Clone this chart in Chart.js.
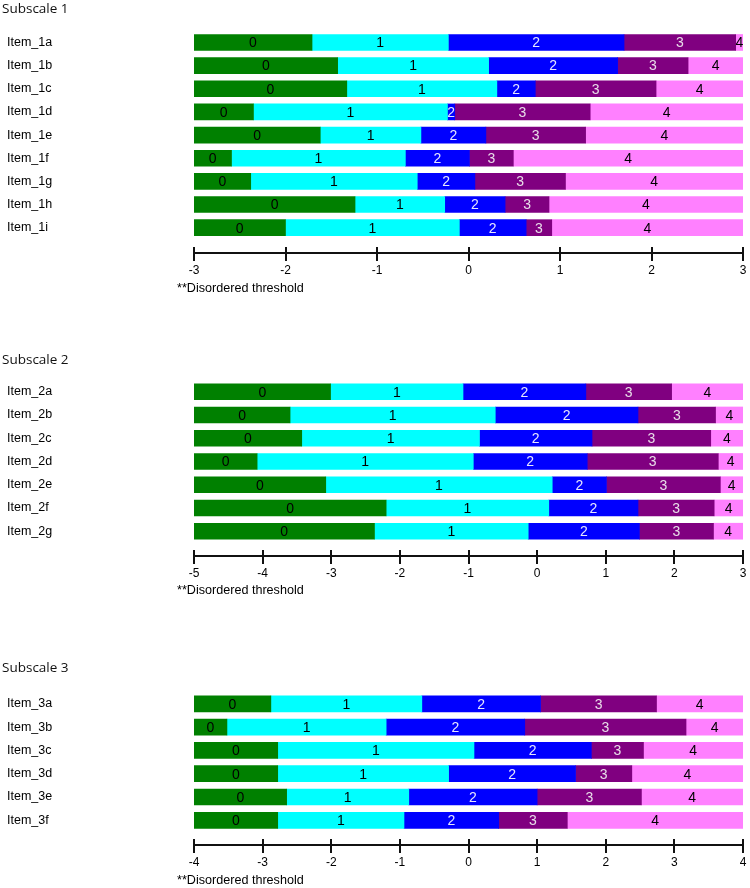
<!DOCTYPE html>
<html><head><meta charset="utf-8">
<script src="https://cdn.jsdelivr.net/npm/chart.js@4.4.1/dist/chart.umd.min.js"></script>
<style>
html,body{margin:0;padding:0;background:#fff;}
#page{position:relative;width:750px;height:888px;overflow:hidden;background:#fff;}
.panel{position:absolute;left:0;width:750px;}
.panel canvas{display:block;}
.title{position:absolute;left:2px;font:13.5px "Open Sans",sans-serif;color:#111;line-height:16px;}
.note{position:absolute;left:177px;font:12.6px "Liberation Sans",Arial,sans-serif;color:#000;line-height:14px;}
</style></head>
<body><div id="page">
<div class="panel" style="top:0px;height:300px"><canvas id="c1" width="750" height="300"></canvas></div>
<div class="panel" style="top:340px;height:270px"><canvas id="c2" width="750" height="270"></canvas></div>
<div class="panel" style="top:650px;height:238px"><canvas id="c3" width="750" height="238"></canvas></div>
<div class="title" style="top:0px">Subscale 1</div>
<div class="title" style="top:351px">Subscale 2</div>
<div class="title" style="top:659px">Subscale 3</div>
<div class="note" style="top:281px">**Disordered threshold</div>
<div class="note" style="top:583px">**Disordered threshold</div>
<div class="note" style="top:873px">**Disordered threshold</div>
</div>
<script>
// ---- Data ----
const segmentLabels = ['0', '1', '2', '3', '4'];

const sub1Items = ['Item_1a','Item_1b','Item_1c','Item_1d','Item_1e','Item_1f','Item_1g','Item_1h','Item_1i'];
const sub1Thr1 = [-1.71, -1.43, -1.33, -2.35, -1.62, -2.59, -2.38, -1.24, -2.00];
const sub1Thr2 = [-0.22, 0.22, 0.31, -0.23, -0.52, -0.69, -0.56, -0.26, -0.10];
const sub1Thr3 = [1.70, 1.63, 0.73, -0.15, 0.19, 0.01, 0.07, 0.40, 0.63];
const sub1Thr4 = [2.92, 2.40, 2.05, 1.33, 1.28, 0.49, 1.06, 0.88, 0.91];
const sub1Ticks = [-3, -2, -1, 0, 1, 2, 3];

const sub2Items = ['Item_2a','Item_2b','Item_2c','Item_2d','Item_2e','Item_2f','Item_2g'];
const sub2Thr1 = [-3.01, -3.60, -3.43, -4.08, -3.08, -2.20, -2.37];
const sub2Thr2 = [-1.08, -0.61, -0.84, -0.93, 0.22, 0.17, -0.13];
const sub2Thr3 = [0.71, 1.47, 0.80, 0.73, 1.01, 1.47, 1.49];
const sub2Thr4 = [1.96, 2.60, 2.53, 2.64, 2.67, 2.58, 2.57];
const sub2Ticks = [-5, -4, -3, -2, -1, 0, 1, 2, 3];

const sub3Items = ['Item_3a','Item_3b','Item_3c','Item_3d','Item_3e','Item_3f'];
const sub3Thr1 = [-2.88, -3.52, -2.78, -2.78, -2.65, -2.78];
const sub3Thr2 = [-0.68, -1.20, 0.08, -0.29, -0.87, -0.94];
const sub3Thr3 = [1.05, 0.82, 1.79, 1.56, 1.00, 0.44];
const sub3Thr4 = [2.74, 3.17, 2.55, 2.38, 2.52, 1.44];
const sub3Ticks = [-4, -3, -2, -1, 0, 1, 2, 3, 4];

// ---- Style ----
const segColors = ['#008000', '#00ffff', '#0000ff', '#800080', '#ff80ff'];
const segTextColors = ['#000000', '#000000', '#e6e6ff', '#e8dce8', '#000000'];
const FONT = '"Liberation Sans", Arial, sans-serif';
const SEG_FONT = '14px "Liberation Sans Narrow", "Liberation Sans", Arial, sans-serif';

const segLabelPlugin = {
  id: 'segLabels',
  afterDatasetsDraw(chart) {
    const ctx = chart.ctx;
    const n = chart.data.datasets.length;
    chart.data.datasets.forEach((ds, di) => {
      const meta = chart.getDatasetMeta(di);
      meta.data.forEach(bar => {
        const p = bar.getProps(['x', 'base', 'y', 'height'], true);
        const l = Math.min(p.x, p.base), r = Math.max(p.x, p.base);
        ctx.save();
        ctx.beginPath();
        const w = di === n - 1 ? chart.width - l : r - l;
        ctx.rect(l, p.y - p.height / 2, w, p.height);
        ctx.clip();
        ctx.fillStyle = segTextColors[di];
        ctx.font = SEG_FONT;
        ctx.textAlign = 'center';
        ctx.textBaseline = 'middle';
        ctx.fillText(segmentLabels[di], (l + r) / 2, p.y + 1);
        ctx.restore();
      });
    });
  }
};

const tickStubPlugin = {
  id: 'tickStubs',
  afterDraw(chart) {
    const sx = chart.scales.x, ctx = chart.ctx;
    const yb = chart.chartArea.bottom;
    ctx.save();
    ctx.strokeStyle = '#111';
    ctx.lineWidth = 2;
    sx.ticks.forEach(t => {
      const px = Math.round(sx.getPixelForValue(t.value));
      ctx.beginPath();
      ctx.moveTo(px, yb - 6);
      ctx.lineTo(px, yb);
      ctx.stroke();
    });
    ctx.restore();
  }
};

function makeChart(id, items, thr1, thr2, thr3, thr4, ticks, geom) {
  const xMin = ticks[0], xMax = ticks[ticks.length - 1];
  const bounds = [items.map(() => xMin), thr1, thr2, thr3, thr4, items.map(() => xMax)];
  const datasets = segmentLabels.map((lab, k) => ({
    label: lab,
    data: items.map((_, i) => ({ x: [bounds[k][i], bounds[k + 1][i]], y: i })),
    backgroundColor: segColors[k],
    borderWidth: 0,
    barThickness: 16,
    grouped: false
  }));
  return new Chart(document.getElementById(id), {
    type: 'bar',
    data: { datasets },
    plugins: [segLabelPlugin, tickStubPlugin],
    options: {
      indexAxis: 'y',
      responsive: false,
      animation: false,
      layout: { padding: { left: 7, right: 7, top: geom.top, bottom: 0 } },
      plugins: { legend: { display: false }, tooltip: { enabled: false }, title: { display: false } },
      scales: {
        x: {
          type: 'linear', min: xMin, max: xMax, bounds: 'data', offset: false,
          afterBuildTicks: s => { s.ticks = ticks.map(v => ({ value: v })); },
          grid: { drawOnChartArea: false, drawTicks: true, tickLength: 8, color: '#111', lineWidth: 2, offset: false },
          border: { display: true, color: '#111', width: 2 },
          ticks: { color: '#000', font: { family: FONT, size: 12 }, padding: 2, maxRotation: 0, autoSkip: false,
                   callback: v => String(v) },
          afterFit: s => { s.height = geom.axisH; }
        },
        y: {
          type: 'linear', reverse: true, min: -0.5, max: geom.yMax, bounds: 'data', offset: false,
          afterBuildTicks: s => { s.ticks = items.map((_, i) => ({ value: i })); },
          grid: { display: false, offset: false },
          border: { display: false },
          ticks: { crossAlign: 'far', padding: 0, color: '#000', autoSkip: false,
                   font: { family: FONT, size: 12.5 }, callback: v => items[v] },
          afterFit: s => { s.width = 187; s.paddingTop = 0; s.paddingBottom = 0; }
        }
      }
    }
  });
}

makeChart('c1', sub1Items, sub1Thr1, sub1Thr2, sub1Thr3, sub1Thr4, sub1Ticks, { top: 30.9, yMax: 9.094, axisH: 47 });
makeChart('c2', sub2Items, sub2Thr1, sub2Thr2, sub2Thr3, sub2Thr4, sub2Ticks, { top: 40.1, yMax: 7.066, axisH: 54 });
makeChart('c3', sub3Items, sub3Thr1, sub3Thr2, sub3Thr3, sub3Thr4, sub3Ticks, { top: 42.15, yMax: 6.06, axisH: 43 });
</script>
</body></html>
